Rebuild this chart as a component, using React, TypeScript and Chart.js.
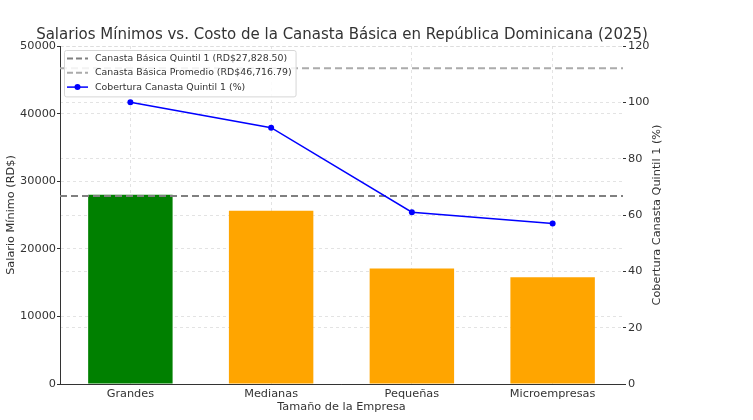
import React, { useEffect, useRef } from "react";
import { Chart, registerables } from "chart.js";

Chart.register(...registerables);

// ---- data ----
const categories = ["Grandes", "Medianas", "Pequeñas", "Microempresas"];
const salaries = [27988, 25640, 17100, 15800];
const coverage = [100, 91, 61, 57];
const basketNames = ["Canasta Básica Quintil 1", "Canasta Básica Promedio"];
const basketValues = [27828.5, 46716.79];
const coverageLabel = "Cobertura Canasta Quintil 1 (%)";
const rightAxisTitle = "Cobertura Canasta Quintil 1 (%)";

// ---- styles ----
const barColors = ["#008000", "#FFA500", "#FFA500", "#FFA500"];
const basketColors = ["#808080", "#ababab"];
const FONT = "'DejaVu Sans', sans-serif";
const TEXT = "#333333";
const AX = 11.3;

const fmtMoney = (v: number) =>
  "RD$" + v.toLocaleString("en-US", { minimumFractionDigits: 2, maximumFractionDigits: 2 });

const basketLabels = basketNames.map((n, i) => `${n} (${fmtMoney(basketValues[i])})`);

const basketPlugin = {
  id: "basketLines",
  afterDatasetDraw(chart: any, args: any) {
    if (args.index !== 0) return;
    const { ctx, chartArea, scales } = chart;
    ctx.save();
    ctx.lineWidth = 2;
    ctx.setLineDash([7, 4]);
    basketValues.forEach((v, i) => {
      const y = scales.y.getPixelForValue(v);
      ctx.strokeStyle = basketColors[i];
      ctx.beginPath();
      ctx.moveTo(chartArea.left, y);
      ctx.lineTo(chartArea.right, y);
      ctx.stroke();
    });
    ctx.restore();
  },
};

const rightTitlePlugin = {
  id: "rightTitle",
  afterDraw(chart: any) {
    const { ctx, chartArea } = chart;
    ctx.save();
    ctx.font = `${AX}px ${FONT}`;
    ctx.fillStyle = TEXT;
    ctx.textAlign = "center";
    ctx.textBaseline = "middle";
    ctx.translate(chartArea.right + 34, (chartArea.top + chartArea.bottom) / 2);
    ctx.rotate(-Math.PI / 2);
    ctx.fillText(rightAxisTitle, 0, 0);
    ctx.restore();
  },
};

const legendPlugin = {
  id: "innerLegend",
  afterDraw(chart: any) {
    const { ctx, chartArea } = chart;
    const items = [
      { label: basketLabels[0], color: basketColors[0], dash: true },
      { label: basketLabels[1], color: basketColors[1], dash: true },
      { label: coverageLabel, color: "#0000ff", dash: false },
    ];
    ctx.save();
    ctx.font = `9.4px ${FONT}`;
    const maxW = Math.max(...items.map((it) => ctx.measureText(it.label).width));
    const x0 = chartArea.left + 4;
    const y0 = chartArea.top + 4;
    const rowH = 14.3;
    const w = 31 + maxW + 4;
    const h = items.length * rowH + 3.5;
    ctx.fillStyle = "rgba(255,255,255,0.85)";
    ctx.strokeStyle = "#d6d6d6";
    ctx.lineWidth = 1;
    ctx.beginPath();
    if (ctx.roundRect) ctx.roundRect(x0 + 0.5, y0 + 0.5, w, h, 2);
    else ctx.rect(x0 + 0.5, y0 + 0.5, w, h);
    ctx.fill();
    ctx.stroke();
    items.forEach((it, i) => {
      const cy = y0 + 8.5 + i * rowH;
      ctx.strokeStyle = it.color;
      ctx.lineWidth = it.dash ? 2 : 1.5;
      ctx.setLineDash(it.dash ? [6, 3] : []);
      ctx.beginPath();
      ctx.moveTo(x0 + 3, cy);
      ctx.lineTo(x0 + 24, cy);
      ctx.stroke();
      ctx.setLineDash([]);
      if (!it.dash) {
        ctx.fillStyle = it.color;
        ctx.beginPath();
        ctx.arc(x0 + 13.5, cy, 3, 0, Math.PI * 2);
        ctx.fill();
      }
      ctx.fillStyle = TEXT;
      ctx.textBaseline = "middle";
      ctx.textAlign = "left";
      ctx.fillText(it.label, x0 + 31, cy);
    });
    ctx.restore();
  },
};

export default function App() {
  const ref = useRef<HTMLCanvasElement | null>(null);

  useEffect(() => {
    if (!ref.current) return;
    const chart = new Chart(ref.current, {
      type: "bar",
      data: {
        labels: categories,
        datasets: [
          {
            type: "bar",
            label: "Salario Mínimo",
            data: salaries,
            backgroundColor: barColors,
            borderWidth: 0,
            barPercentage: 0.6,
            categoryPercentage: 1,
            yAxisID: "y",
            order: 1,
          } as any,
          {
            type: "line",
            label: coverageLabel,
            data: coverage,
            borderColor: "#0000ff",
            backgroundColor: "#0000ff",
            borderWidth: 1.5,
            pointRadius: 3,
            pointBackgroundColor: "#0000ff",
            pointBorderWidth: 0,
            yAxisID: "y1",
            order: 0,
          } as any,
        ],
      },
      options: {
        animation: false,
        responsive: true,
        maintainAspectRatio: false,
        layout: { padding: { left: 0, right: 69, top: 0, bottom: 2 } },
        plugins: {
          legend: { display: false },
          tooltip: { enabled: false },
          title: {
            display: true,
            text: "Salarios Mínimos vs. Costo de la Canasta Básica en República Dominicana (2025)",
            color: TEXT,
            font: { family: FONT, size: 15, weight: "normal" },
            padding: { top: 26, bottom: 2 },
          },
        },
        scales: {
          x: {
            type: "category",
            offset: true,
            grid: {
              display: true,
              offset: false,
              color: "#dcdcdc",
              lineWidth: 0.8,
              drawTicks: false,
            },
            border: { display: true, color: "#333333", width: 1, dash: [3, 3] },
            ticks: { color: TEXT, font: { family: FONT, size: AX }, padding: 3 },
            title: {
              display: true,
              text: "Tamaño de la Empresa",
              color: TEXT,
              font: { family: FONT, size: AX },
              padding: { top: 2, bottom: 4 },
            },
            afterFit: (s: any) => {
              s.height = 34;
            },
          },
          y: {
            type: "linear",
            position: "left",
            min: 0,
            max: 50000,
            grid: {
              color: "#dcdcdc",
              lineWidth: 0.8,
              tickLength: 3,
              tickColor: "#333333",
              tickWidth: 1,
            },
            border: { display: true, color: "#333333", width: 1, dash: [3, 3] },
            ticks: {
              stepSize: 10000,
              color: TEXT,
              font: { family: FONT, size: AX },
              padding: 1,
              callback: (v: any) => String(v),
            },
            title: {
              display: true,
              text: "Salario Mínimo (RD$)",
              color: TEXT,
              font: { family: FONT, size: AX },
              padding: { top: 4, bottom: 4 },
            },
            afterFit: (s: any) => {
              s.width = 60;
            },
          },
          y1: {
            type: "linear",
            position: "right",
            min: 0,
            max: 120,
            grid: {
              color: "#dcdcdc",
              lineWidth: 0.8,
              tickLength: 3,
              tickColor: "#333333",
              tickWidth: 1,
              drawOnChartArea: true,
            },
            border: { display: false, dash: [3, 3] },
            ticks: {
              stepSize: 20,
              color: TEXT,
              font: { family: FONT, size: AX },
              padding: 2,
            },
            title: { display: false },
            afterFit: (s: any) => {
              s.width = 61;
            },
          },
        },
      } as any,
      plugins: [basketPlugin, rightTitlePlugin, legendPlugin],
    });
    return () => chart.destroy();
  }, []);

  return (
    <div style={{ position: "absolute", left: 0, top: 0, width: 753, height: 420 }}>
      <canvas ref={ref} />
    </div>
  );
}
